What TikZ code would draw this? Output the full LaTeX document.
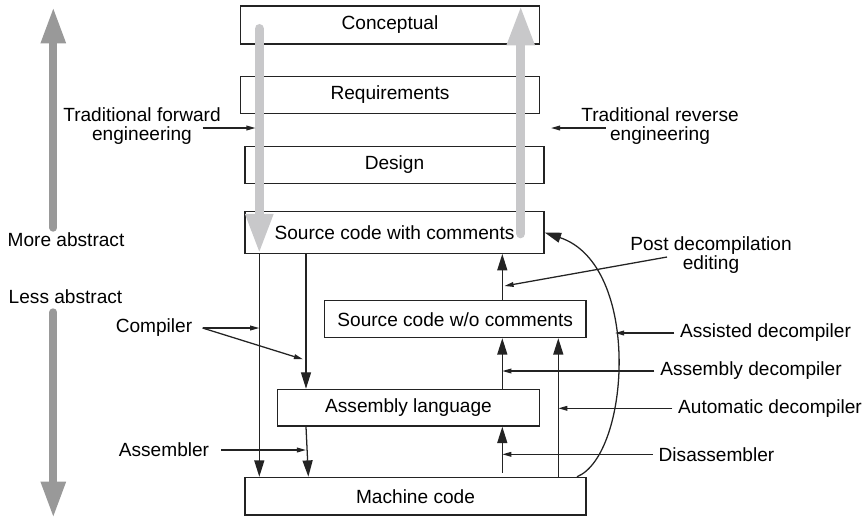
\documentclass[tikz,border=0pt]{standalone}
\usepackage{fontspec}
\setmainfont{Liberation Sans}
\usetikzlibrary{arrows.meta}
\definecolor{flowgray}{RGB}{200,200,202}
\definecolor{axisgray}{RGB}{153,153,153}
\definecolor{inkgray}{RGB}{35,35,35}

\begin{document}
\begin{tikzpicture}[
  x=0.55pt, y=-0.55pt, font=\fontsize{10.5}{10.5}\selectfont,
  box/.style={draw=inkgray, line width=0.7pt, minimum height=20.2pt, inner sep=0pt},
  lbl/.style={align=center, inner sep=3pt},
  big/.style={-{Triangle[length=9pt,width=5.5pt]}, line width=0.7pt, inkgray},
  small/.style={-{Triangle[length=5pt,width=2.6pt]}, line width=0.7pt, inkgray},
  flow/.style={-{Triangle[length=22pt,width=14pt]}, line width=5.2pt, flowgray, line cap=round},
  axis/.style={-{Triangle[length=20pt,width=12.7pt]}, line width=4.4pt, axisgray, line cap=round},
]
  \useasboundingbox (0,0) rectangle (867,519);

  \node[box, minimum width=164.2pt, minimum height=20.9pt] (concept) at (390,25)    {Conceptual};
  \node[box, minimum width=164.2pt]                        (req)     at (390,95)    {Requirements};
  \node[box, minimum width=164.5pt]                        (design)  at (394.5,165) {Design};
  \node[box, minimum width=164.5pt, minimum height=22.9pt] (srcc)    at (394.5,232.5) {Source code with comments};
  \node[box, minimum width=143.9pt]                        (srcnc)   at (455.2,319.2) {Source code w/o comments};
  \node[box, minimum width=143.9pt]                        (asm)     at (408.5,407.7) {Assembly language};
  \node[box, minimum width=187.6pt, minimum height=20.7pt] (mach)    at (415.5,496.2) {Machine code};

  \node[lbl] (more)    at (66,240)    {More abstract};
  \node[lbl] (less)    at (65.5,297)  {Less abstract};
  \node[lbl] (fwdlbl)  at (142,126)   {Traditional forward\\engineering};
  \node[lbl] (revlbl)  at (660,126)   {Traditional reverse\\engineering};
  \node[lbl] (comp)    at (154,328)   {Compiler};
  \node[lbl] (asmbl)   at (164,450)   {Assembler};
  \node[lbl] (post)    at (711,255)   {Post decompilation\\editing};
  \node[lbl] (assist)  at (765.5,333) {Assisted decompiler};
  \node[lbl] (asmdec)  at (751,371)   {Assembly decompiler};
  \node[lbl] (autodec) at (770,408.3) {Automatic decompiler};
  \node[lbl] (disasm)  at (716.5,454.3) {Disassembler};

  \coordinate (colA) at (259.3,0);
  \coordinate (colB) at (306,0);
  \coordinate (colC) at (502.3,0);
  \coordinate (colD) at (558.3,0);
  \coordinate (colE) at (577,0);
  \coordinate (colF) at (615,0);
  \coordinate (colR) at (520.7,0);
  \coordinate (cfork) at ([xshift=2.5pt]comp.east);
  \coordinate (cmid) at (303,359.3);
  \coordinate (postend) at (504.5,286);

  \draw[axis] (53.3,227.7) -- (53.3,7);
  \draw[axis] (53.3,312.3) -- (53.3,518);
  \draw[flow] (259.3,28.7) -- (srcc.south -| colA);
  \draw[flow] (520.7,233.6) -- (concept.north -| colR);

  \draw[big] (srcc.south -| colA) -- (mach.north -| colA);
  \draw[big] (srcc.south -| colB) -- (asm.north -| colB);
  \draw[big] (asm.south -| colB) -- ([xshift=1.3pt]mach.north -| colB);
  \draw[big] ([yshift=2.2pt]mach.north -| colC) -- (asm.south -| colC);
  \draw[big] (asm.north -| colC) -- (srcnc.south -| colC);
  \draw[big] (srcnc.north -| colC) -- (srcc.south -| colC);
  \draw[big] (mach.north -| colD) -- (srcnc.south -| colD);
  \draw[big] (mach.north -| colE) .. controls (630,455) and (642,265) .. (srcc.east);

  \draw[small] ([shift={(-24,2)}]fwdlbl.east) -- ++(53,0);
  \draw[small] ([shift={(30.5,2)}]revlbl.west) -- ++(-55,0);
  \draw[small] (cfork) -- (cfork -| colA);
  \draw[small] (cfork) -- (cmid);
  \draw[small] ([xshift=3.5pt]asmbl.east) -- (asmbl.east -| colB);
  \draw[small] ([shift={(42.5,2)}]post.west) -- (postend);
  \draw[small] (assist.west) -- (assist.west -| colF);
  \draw[small] (asmdec.west) -- (asmdec.west -| colC);
  \draw[small] (autodec.west) -- (autodec.west -| colD);
  \draw[small] (disasm.west) -- (disasm.west -| colC);
\end{tikzpicture}
\end{document}
